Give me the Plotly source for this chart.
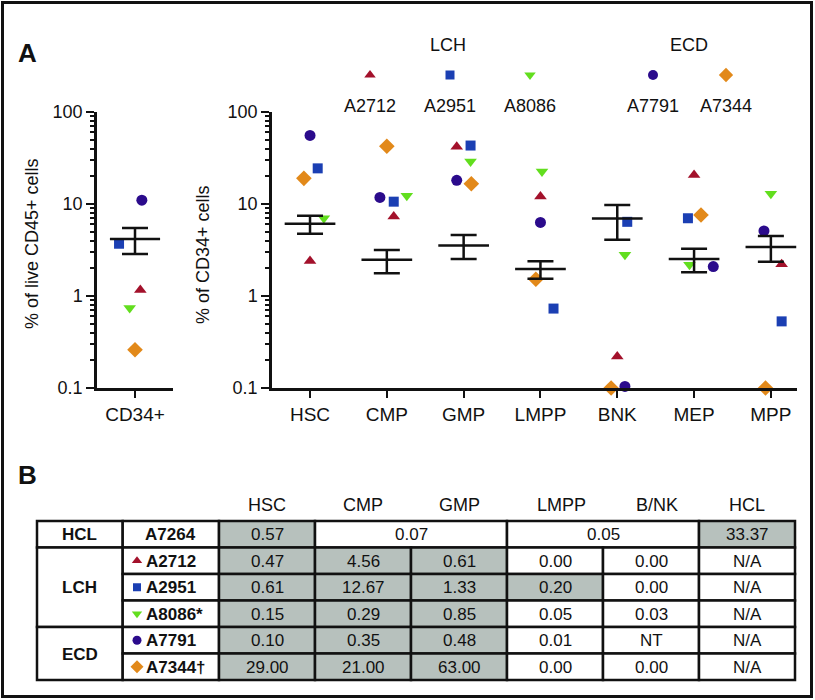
import plotly.graph_objects as go

# ---------------- data ----------------
categories = ["HSC", "CMP", "GMP", "LMPP", "BNK", "MEP", "MPP"]
left_category = ["CD34+"]

patients = ["A2712", "A2951", "A8086", "A7791", "A7344"]
groups = ["LCH", "LCH", "LCH", "ECD", "ECD"]

# % of CD34+ cells per progenitor population
A2712 = [2.4, 7.3, 41.9, 12.1, 0.22, 20.7, 2.22]
A2951 = [24.4, 10.6, 43.2, 0.73, 6.4, 7.0, 0.53]
A8086 = [7.0, 12.3, 28.9, 22.5, 2.8, 2.18, 12.9]
A7791 = [55.6, 11.8, 18.1, 6.3, 0.104, 2.09, 5.1]
A7344 = [19.0, 42.5, 16.6, 1.52, 0.1, 7.6, 0.1]

# % of live CD45+ cells that are CD34+
cd34_A2712 = [1.16]
cd34_A2951 = [3.7]
cd34_A8086 = [0.74]
cd34_A7791 = [11.0]
cd34_A7344 = [0.26]

# mean +/- SEM
mean_vals = [6.1, 2.47, 3.54, 1.96, 6.97, 2.53, 3.4]
upper_vals = [7.45, 3.17, 4.59, 2.39, 9.75, 3.26, 4.48]
lower_vals = [4.74, 1.77, 2.53, 1.54, 4.08, 1.81, 2.35]
cd34_mean = [4.17]
cd34_upper = [5.5]
cd34_lower = [2.86]

# table (panel B)
table_columns = ["HSC", "CMP", "GMP", "LMPP", "B/NK", "HCL"]
table_groups = ["HCL", "LCH", "ECD"]
table_group_rows = [1, 3, 2]
table_patients = ["A7264", "A2712", "A2951", "A8086*", "A7791", "A7344\u2020"]
table_patient_marker = [None, "A2712", "A2951", "A8086", "A7791", "A7344"]
hcl_row = [("0.57", 1, True), ("0.07", 2, False), ("0.05", 2, False), ("33.37", 1, True)]
table_values = [
    ["0.47", "4.56", "0.61", "0.00", "0.00", "N/A"],
    ["0.61", "12.67", "1.33", "0.20", "0.00", "N/A"],
    ["0.15", "0.29", "0.85", "0.05", "0.03", "N/A"],
    ["0.10", "0.35", "0.48", "0.01", "NT", "N/A"],
    ["29.00", "21.00", "63.00", "0.00", "0.00", "N/A"],
]
table_shaded = [
    [True, True, True, False, False, False],
    [True, True, True, True, False, False],
    [True, True, True, False, False, False],
    [True, True, True, False, False, False],
    [True, True, True, False, False, False],
]

# ---------------- styles / positions ----------------
W, H = 815, 700
FONT = "Liberation Sans, Arial, Helvetica, sans-serif"
INK = "#111111"
style = {
    "A2712": dict(color="#a3112b", symbol="triangle-up", size=11),
    "A2951": dict(color="#1b3fb3", symbol="square", size=10),
    "A8086": dict(color="#62de1e", symbol="triangle-down", size=11),
    "A7791": dict(color="#2b0b8c", symbol="circle", size=11),
    "A7344": dict(color="#e2891a", symbol="diamond", size=12),
}
series = {"A2712": A2712, "A2951": A2951, "A8086": A8086, "A7791": A7791, "A7344": A7344}
cd34_series = {"A2712": cd34_A2712, "A2951": cd34_A2951, "A8086": cd34_A8086,
               "A7791": cd34_A7791, "A7344": cd34_A7344}
# horizontal jitter of points (category units)
jitter = {
    "A2712": [0, 0.09, -0.09, 0, 0, 0, 0.14],
    "A2951": [0.1, 0.09, 0.09, 0.17, 0.13, -0.08, 0.14],
    "A8086": [0.18, 0.26, 0.09, 0.02, 0.1, -0.06, 0],
    "A7791": [0, -0.09, -0.09, 0, 0.1, 0.25, -0.09],
    "A7344": [-0.08, 0, 0.1, -0.06, -0.08, 0.09, -0.07],
}
cd34_jitter = {"A2712": [0.07], "A2951": [-0.21], "A8086": [-0.07], "A7791": [0.09], "A7344": [0.0]}
legend_px = {"A2712": 370, "A2951": 450, "A8086": 530, "A7791": 653, "A7344": 726}
group_label_px = {"LCH": 448, "ECD": 689}
header_shift = [0, 0, 0, 6, 6, 0]


def px(x):
    return x / W


def py(y):
    return 1 - y / H


def ann(x, y, text, size=18, **kw):
    d = dict(x=px(x), y=py(y), xref="paper", yref="paper", text=text, showarrow=False,
             xanchor="center", yanchor="middle", font=dict(size=size, family=FONT, color=INK))
    d.update(kw)
    return d


fig = go.Figure()

# ---- scatter points ----
for name in patients:
    st = style[name]
    vals = series[name]
    xs = [i + j for i, j in zip(range(len(categories)), jitter[name])]
    fig.add_trace(go.Scatter(x=xs, y=vals, mode="markers", xaxis="x2", yaxis="y2",
                             marker=dict(color=st["color"], symbol=st["symbol"], size=st["size"], line=dict(width=0)),
                             cliponaxis=False, showlegend=False, hoverinfo="skip"))
    fig.add_trace(go.Scatter(x=cd34_jitter[name], y=cd34_series[name], mode="markers", xaxis="x", yaxis="y",
                             marker=dict(color=st["color"], symbol=st["symbol"], size=st["size"], line=dict(width=0)),
                             cliponaxis=False, showlegend=False, hoverinfo="skip"))

# ---- mean lines and SEM ----
MEAN_HW = 0.33


def mean_trace(xidx, means, xa, ya):
    xs, ys = [], []
    for i, m in zip(xidx, means):
        xs += [i - MEAN_HW, i + MEAN_HW, None]
        ys += [m, m, None]
    return go.Scatter(x=xs, y=ys, mode="lines", xaxis=xa, yaxis=ya, line=dict(color=INK, width=2.5),
                      showlegend=False, hoverinfo="skip", cliponaxis=False)


def err_trace(xidx, means, up, lo, xa, ya):
    return go.Scatter(x=list(xidx), y=means, mode="markers", xaxis=xa, yaxis=ya,
                      marker=dict(size=1, opacity=0),
                      error_y=dict(type="data", symmetric=False,
                                   array=[u - m for u, m in zip(up, means)],
                                   arrayminus=[m - l for l, m in zip(lo, means)],
                                   color=INK, thickness=2.5, width=13),
                      showlegend=False, hoverinfo="skip", cliponaxis=False)


fig.add_trace(mean_trace(range(len(categories)), mean_vals, "x2", "y2"))
fig.add_trace(err_trace(range(len(categories)), mean_vals, upper_vals, lower_vals, "x2", "y2"))
fig.add_trace(mean_trace([0], cd34_mean, "x", "y"))
fig.add_trace(err_trace([0], cd34_mean, cd34_upper, cd34_lower, "x", "y"))

# ---- top legend (pixel overlay axis) ----
for name in patients:
    st = style[name]
    fig.add_trace(go.Scatter(x=[legend_px[name]], y=[75], mode="markers", xaxis="x3", yaxis="y3",
                             marker=dict(color=st["color"], symbol=st["symbol"], size=st["size"] - 1),
                             showlegend=False, hoverinfo="skip", cliponaxis=False))

annotations = []
for name in patients:
    annotations.append(ann(legend_px[name], 106, name))
for g, xg in group_label_px.items():
    annotations.append(ann(xg, 45, g))

# panel letters
annotations.append(ann(27, 53, "<b>A</b>", size=26))
annotations.append(ann(27, 475, "<b>B</b>", size=26))

# y axis titles
annotations.append(ann(32, 244, "% of live CD45+ cells", textangle=-90))
annotations.append(ann(203, 255, "% of CD34+ cells", textangle=-90))

# ---- table ----
col_edges = [37, 122.7, 219, 315, 411, 507, 603, 699, 795]
row_top = 521
row_h = 26.5
row_edges = [row_top + row_h * k for k in range(7)]
GRAY = "#b7c1bd"
shapes = []


def cell(c0, c1, r0, r1, text, shaded=False, bold=False, size=17):
    shapes.append(dict(type="rect", xref="paper", yref="paper",
                       x0=px(col_edges[c0]), x1=px(col_edges[c1]),
                       y0=py(row_edges[r0]), y1=py(row_edges[r1]),
                       fillcolor=GRAY if shaded else "white", line=dict(color=INK, width=2.5),
                       layer="below"))
    if text is not None:
        t = f"<b>{text}</b>" if bold else text
        annotations.append(ann((col_edges[c0] + col_edges[c1]) / 2,
                               (row_edges[r0] + row_edges[r1]) / 2 + 0.5, t, size=size))


# group column
r = 0
for g, n in zip(table_groups, table_group_rows):
    cell(0, 1, r, r + n, g, bold=True)
    r += n

# patient column
for i, (pname, mk) in enumerate(zip(table_patients, table_patient_marker)):
    if mk is None:
        cell(1, 2, i, i + 1, pname, bold=True)
    else:
        cell(1, 2, i, i + 1, None)
        yc = (row_edges[i] + row_edges[i + 1]) / 2
        st = style[mk]
        fig.add_trace(go.Scatter(x=[137], y=[yc], mode="markers", xaxis="x3", yaxis="y3",
                                 marker=dict(color=st["color"], symbol=st["symbol"], size=st["size"] - 2),
                                 showlegend=False, hoverinfo="skip", cliponaxis=False))
        annotations.append(ann(144, yc + 0.5, f"<b>{pname}</b>", size=17, xanchor="left"))

# HCL row with merged cells
c = 2
for text, span, shaded in hcl_row:
    cell(c, c + span, 0, 1, text, shaded=shaded)
    c += span

# other rows
for i, (vals, shade) in enumerate(zip(table_values, table_shaded)):
    for j, (v, s) in enumerate(zip(vals, shade)):
        cell(2 + j, 3 + j, i + 1, i + 2, v, shaded=s)

# headers
for j, h in enumerate(table_columns):
    annotations.append(ann((col_edges[2 + j] + col_edges[3 + j]) / 2 + header_shift[j], 505, h))

# outer frame
shapes.append(dict(type="rect", xref="paper", yref="paper", x0=px(2.5), x1=px(811.5), y0=py(696.5),
                   y1=py(2.5), line=dict(color=INK, width=3), fillcolor="rgba(0,0,0,0)"))

# ---- axes ----
minor_vals = [k * 10 ** e for e in (-1, 0, 1) for k in range(2, 10)]
yaxis_common = dict(type="log", range=[-1, 2.0], domain=[py(388), py(112)],
                    tickvals=[0.1, 1, 10, 100], ticktext=["0.1", "1", "10", "100"],
                    ticks="outside", ticklen=8, tickwidth=2, tickcolor=INK,
                    minor=dict(tickvals=minor_vals, ticks="outside", ticklen=4, tickwidth=1.5,
                               tickcolor=INK, showgrid=False),
                    showline=True, linewidth=2.5, linecolor=INK, showgrid=False, zeroline=False,
                    tickfont=dict(size=18, family=FONT, color=INK), fixedrange=True)
xaxis_common = dict(showline=True, linewidth=2.5, linecolor=INK, ticks="outside", ticklen=7,
                    tickwidth=2, tickcolor=INK, showgrid=False, zeroline=False,
                    tickfont=dict(size=19, family=FONT, color=INK), fixedrange=True)

fig.update_layout(
    width=W, height=H, margin=dict(l=0, r=0, t=0, b=0, autoexpand=False),
    paper_bgcolor="white", plot_bgcolor="rgba(0,0,0,0)",
    showlegend=False,
    xaxis=dict(domain=[px(97), px(173)], range=[-0.5, 0.5], tickvals=[0], ticktext=left_category,
               anchor="y", **xaxis_common),
    yaxis=dict(anchor="x", **yaxis_common),
    xaxis2=dict(domain=[px(272), px(797)], range=[-0.495, 6.34], tickvals=list(range(len(categories))),
                ticktext=categories, anchor="y2", **xaxis_common),
    yaxis2=dict(anchor="x2", **yaxis_common),
    xaxis3=dict(domain=[0, 1], range=[0, W], visible=False, anchor="y3", fixedrange=True),
    yaxis3=dict(domain=[0, 1], range=[H, 0], visible=False, anchor="x3", fixedrange=True),
    annotations=annotations, shapes=shapes,
    font=dict(family=FONT, color=INK),
)

fig.write_html("out.html", config={"displayModeBar": False},
               post_script="document.body.style.margin='0';document.body.style.overflow='hidden';")
